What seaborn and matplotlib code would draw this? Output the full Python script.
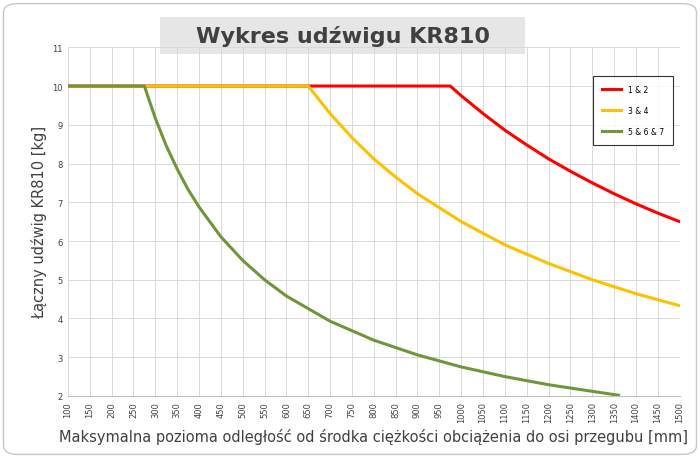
import matplotlib
matplotlib.use("Agg")
import matplotlib.pyplot as plt
import seaborn as sns
import pandas as pd
from matplotlib.patches import FancyBboxPatch, Rectangle

red_x = [100, 975, 1000, 1050, 1100, 1150, 1200, 1250, 1300, 1350, 1400, 1450, 1500]
red_y = [10, 10, 9.75, 9.29, 8.86, 8.48, 8.12, 7.8, 7.5, 7.22, 6.96, 6.72, 6.5]
yel_x = [100, 650, 700, 750, 800, 850, 900, 1000, 1100, 1200, 1300, 1400, 1500]
yel_y = [10, 10, 9.29, 8.67, 8.12, 7.65, 7.22, 6.5, 5.9, 5.42, 5.0, 4.64, 4.33]
grn_x = [100, 275, 300, 325, 350, 375, 400, 450, 500, 550, 600, 700, 800, 900, 1000, 1100, 1200, 1300, 1360]
grn_y = [10, 10, 9.17, 8.46, 7.86, 7.33, 6.88, 6.11, 5.5, 5.0, 4.58, 3.93, 3.44, 3.06, 2.75, 2.5, 2.29, 2.12, 2.02]
labels = ["1 & 2", "3 & 4", "5 & 6 & 7"]
colors = ["#ff0000", "#ffc000", "#70963a"]

fig = plt.figure(figsize=(7, 4.6), dpi=100)
fig.patches.append(FancyBboxPatch((0.005, 0.01), 0.99, 0.98, boxstyle="round,pad=0,rounding_size=0.02",
                                  transform=fig.transFigure, fc="none", ec="#c8c8c8", lw=1, zorder=-5))
fig.patches.append(Rectangle((0.229, 0.88), 0.521, 0.08, transform=fig.transFigure,
                             fc="#e6e6e6", ec="none", zorder=-5))
ax = fig.add_axes([0.097, 0.137, 0.874, 0.758])
ax.set_facecolor("none")
for (xs, ys), lab, c in zip([(red_x, red_y), (yel_x, yel_y), (grn_x, grn_y)], labels, colors):
    df = pd.DataFrame({"x": xs, "y": ys})
    sns.lineplot(data=df, x="x", y="y", ax=ax, color=c, lw=2.2, label=lab)
ax.set_xlim(100, 1500)
ax.set_ylim(2, 11)
ax.set_xticks(range(100, 1501, 50))
ax.set_yticks(range(2, 12))
ax.tick_params(axis="x", labelrotation=90, labelsize=6, length=0, colors="#404040")
ax.tick_params(axis="y", labelsize=6, length=0, colors="#404040")
ax.grid(True, color="#d9d9d9", lw=0.7)
for s in ax.spines.values():
    s.set_visible(False)
ax.spines["bottom"].set_visible(True)
ax.spines["bottom"].set_color("#bfbfbf")
ax.set_xlabel("Maksymalna pozioma odległość od środka ciężkości obciążenia do osi przegubu [mm]",
              fontsize=10.5, color="#404040")
ax.set_ylabel("Łączny udźwig KR810 [kg]", fontsize=10.5, color="#404040")
leg = ax.legend(loc="upper right", bbox_to_anchor=(0.995, 0.93), fontsize=5.5, frameon=True,
                fancybox=False, edgecolor="black", borderpad=1.2, labelspacing=1.6, handlelength=2.5)
leg.get_frame().set_linewidth(0.8)
fig.text(0.49, 0.92, "Wykres udźwigu KR810", ha="center", va="center", fontsize=16, fontweight="bold",
         color="#404040")
fig.savefig("out.png", dpi=100)
